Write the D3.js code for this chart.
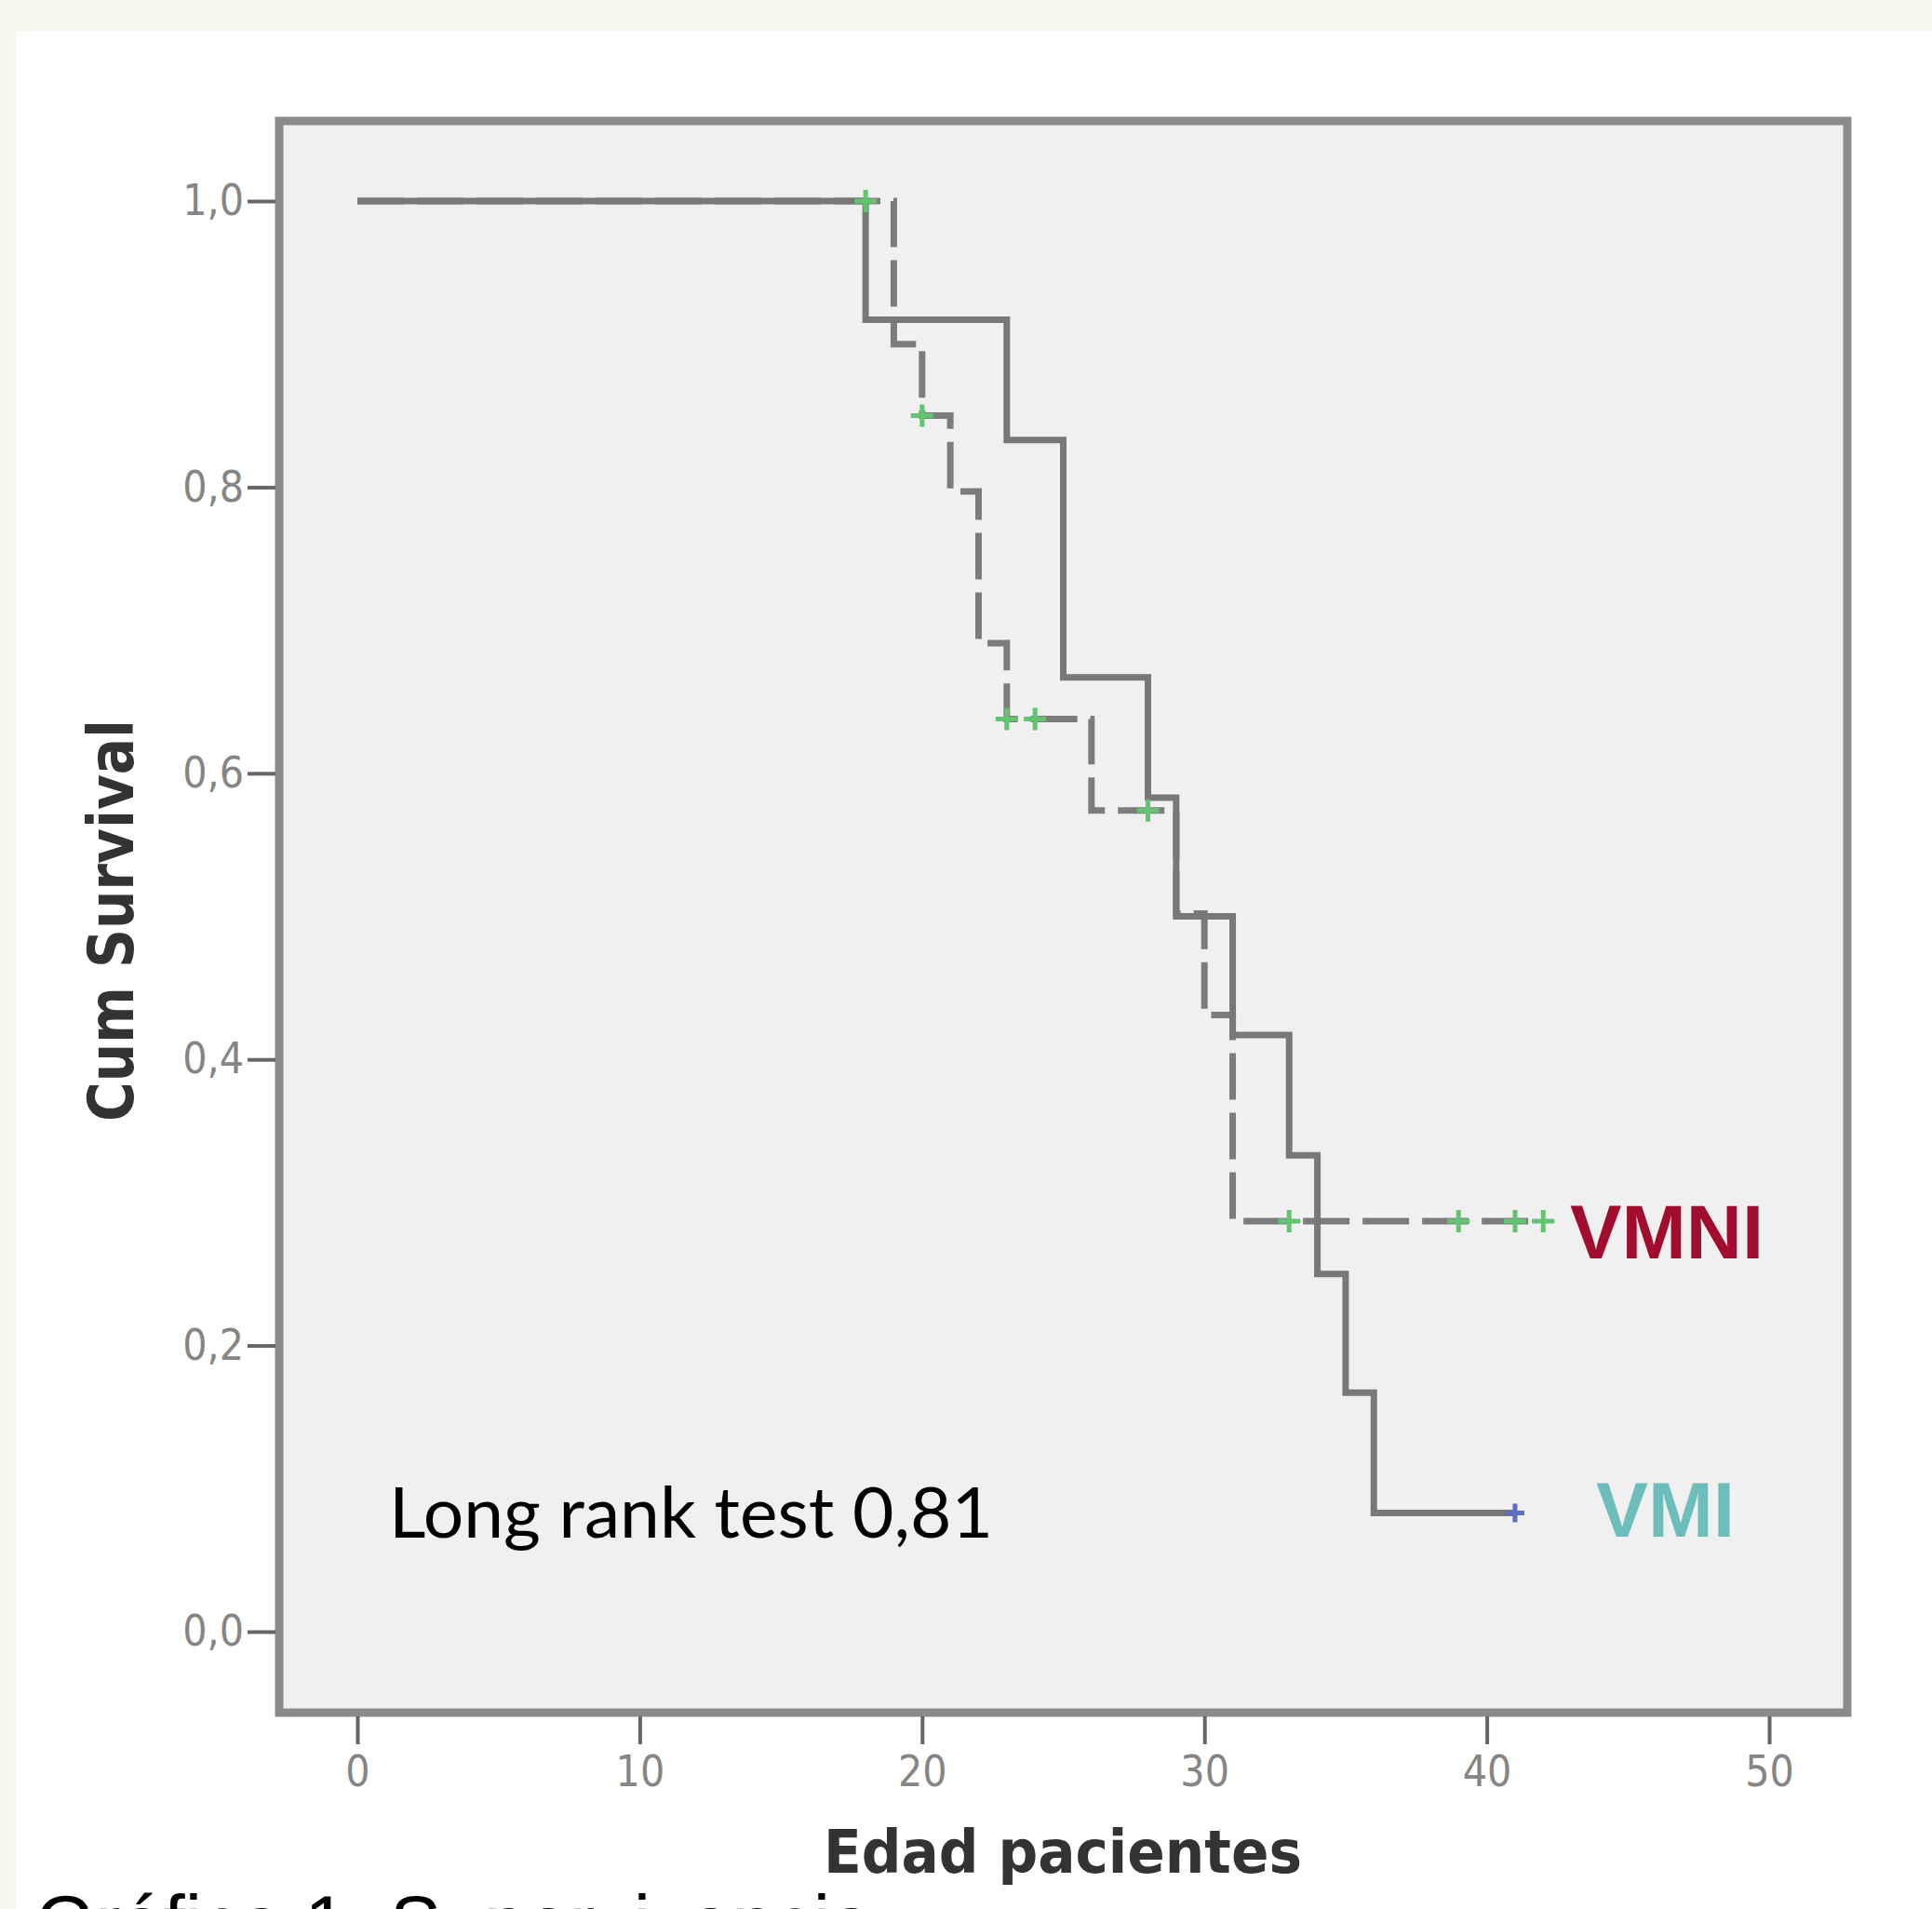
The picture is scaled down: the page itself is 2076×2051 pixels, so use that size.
<!DOCTYPE html>
<html>
<head>
<meta charset="utf-8">
<script src="https://cdn.jsdelivr.net/npm/d3@7"></script>
<style>
  body { margin: 0; background: #fff; overflow: hidden; }
</style>
</head>
<body>
<svg id="canvas" width="2076" height="2051"></svg>
<script>
// survival steps: [time, cumulative survival]
let vmiSteps = [[0, 1.0], [18, 0.917], [23, 0.833], [25, 0.667], [28, 0.583], [29, 0.5],
  [31, 0.417], [33, 0.333], [34, 0.25], [35, 0.167], [36, 0.083], [41, 0.083]];
let vmniSteps = [[0, 1.0], [19, 0.9], [20, 0.85], [21, 0.797], [22, 0.691], [23, 0.638],
  [26, 0.574], [29, 0.502], [30, 0.431], [31, 0.287], [42, 0.287]];

// censored cases
let vmiCensored = [[41, 0.083]];
let vmniCensored = [[18, 1.0], [20, 0.85], [23, 0.638], [24, 0.638], [28, 0.574],
  [33, 0.287], [39, 0.287], [41, 0.287], [42, 0.287]];

let xTicks = [0, 10, 20, 30, 40, 50];
let yTicks = [0, 0.2, 0.4, 0.6, 0.8, 1.0];

let svg = d3.select("#canvas");

// page background: cream band on top and left
svg.append('rect').attr('x', 0).attr('y', 0).attr('width', 2076).attr('height', 2051).attr('fill', '#ffffff');
svg.append('rect').attr('x', 0).attr('y', 0).attr('width', 2076).attr('height', 33).attr('fill', '#f6f7ea');
svg.append('rect').attr('x', 0).attr('y', 0).attr('width', 17).attr('height', 2051).attr('fill', '#f6f7ea');

let frame = { left: 300, top: 130, right: 1985, bottom: 1840 };

let x = d3.scaleLinear().domain([0, 50]).range([384, 1901]);
let y = d3.scaleLinear().domain([0, 1]).range([1753, 216]);

svg.append('rect')
  .attr('x', frame.left).attr('y', frame.top)
  .attr('width', frame.right - frame.left).attr('height', frame.bottom - frame.top)
  .attr('fill', '#f0f0f0')
  .attr('stroke', '#8a8a8a')
  .attr('stroke-width', 9);

// axes
let xAxis = d3.axisBottom(x).tickValues(xTicks).tickSize(30).tickSizeOuter(0).tickPadding(12);
let yAxis = d3.axisLeft(y).tickValues(yTicks).tickSize(30).tickSizeOuter(0).tickPadding(4)
  .tickFormat(d => d3.format('.1f')(d).replace('.', ','));

let gx = svg.append('g').attr('transform', 'translate(0,' + (frame.bottom + 4) + ')').call(xAxis);
let gy = svg.append('g').attr('transform', 'translate(' + (frame.left - 4) + ',0)').call(yAxis);

[gx, gy].forEach(g => {
  g.select('.domain').remove();
  g.selectAll('.tick line').attr('stroke', '#666').attr('stroke-width', 4);
  g.selectAll('.tick text')
    .attr('fill', '#858585')
    .style('font-family', '"DejaVu Sans Condensed", "DejaVu Sans", sans-serif')
    .style('font-size', '46px');
});

// survival curves
let stepLine = d3.line()
  .x(d => x(d[0]))
  .y(d => y(d[1]))
  .curve(d3.curveStepAfter);

svg.append('path')
  .datum(vmniSteps)
  .attr('d', stepLine)
  .attr('fill', 'none')
  .attr('stroke', '#7c7c7c')
  .attr('stroke-width', 7)
  .attr('stroke-dasharray', '50,14');

svg.append('path')
  .datum(vmiSteps)
  .attr('d', stepLine)
  .attr('fill', 'none')
  .attr('stroke', '#787878')
  .attr('stroke-width', 7);

let drawCensored = (data, color, size) => {
  svg.append('g').selectAll('path')
    .data(data)
    .enter()
    .append('path')
    .attr('d', d => {
      let cx = x(d[0]), cy = y(d[1]);
      return 'M' + (cx - size) + ',' + cy + 'H' + (cx + size) +
        'M' + cx + ',' + (cy - size) + 'V' + (cy + size);
    })
    .attr('stroke', color)
    .attr('stroke-width', 5)
    .attr('fill', 'none');
};
drawCensored(vmniCensored, '#62c46f', 12);
drawCensored(vmiCensored, '#5f6fbf', 10);

// labels
svg.append('text')
  .attr('x', 418).attr('y', 1652)
  .attr('textLength', 649).attr('lengthAdjust', 'spacingAndGlyphs')
  .style('font-family', 'Lato, "Open Sans", sans-serif')
  .style('font-size', '75px')
  .attr('fill', '#000')
  .text('Long rank test 0,81');

svg.append('text')
  .attr('x', 1687).attr('y', 1352)
  .attr('textLength', 208).attr('lengthAdjust', 'spacingAndGlyphs')
  .style('font-family', '"Liberation Sans", Arial, sans-serif')
  .style('font-weight', 'bold')
  .style('font-size', '82px')
  .attr('fill', '#a30d2d')
  .text('VMNI');

svg.append('text')
  .attr('x', 1715).attr('y', 1651)
  .attr('textLength', 149).attr('lengthAdjust', 'spacingAndGlyphs')
  .style('font-family', '"Liberation Sans", Arial, sans-serif')
  .style('font-weight', 'bold')
  .style('font-size', '84px')
  .attr('fill', '#6dbdbd')
  .text('VMI');

svg.append('text')
  .attr('transform', 'translate(143,989) rotate(-90)')
  .attr('text-anchor', 'middle')
  .attr('textLength', 432).attr('lengthAdjust', 'spacingAndGlyphs')
  .style('font-family', '"DejaVu Sans Condensed", "DejaVu Sans", sans-serif')
  .style('font-weight', 'bold')
  .style('font-size', '68px')
  .attr('fill', '#333')
  .text('Cum Survival');

svg.append('text')
  .attr('x', 1142).attr('y', 2012)
  .attr('text-anchor', 'middle')
  .attr('textLength', 514).attr('lengthAdjust', 'spacingAndGlyphs')
  .style('font-family', '"DejaVu Sans Condensed", "DejaVu Sans", sans-serif')
  .style('font-weight', 'bold')
  .style('font-size', '64px')
  .attr('fill', '#333')
  .text('Edad pacientes');

// figure caption, cut by the bottom edge as in the source image
svg.append('text')
  .attr('x', 38).attr('y', 2095)
  .attr('textLength', 900).attr('lengthAdjust', 'spacingAndGlyphs')
  .style('font-family', '"Liberation Sans", Arial, sans-serif')
  .style('font-size', '84px')
  .attr('fill', '#000')
  .text('Gráfica 1. Supervivencia');
</script>
</body>
</html>
